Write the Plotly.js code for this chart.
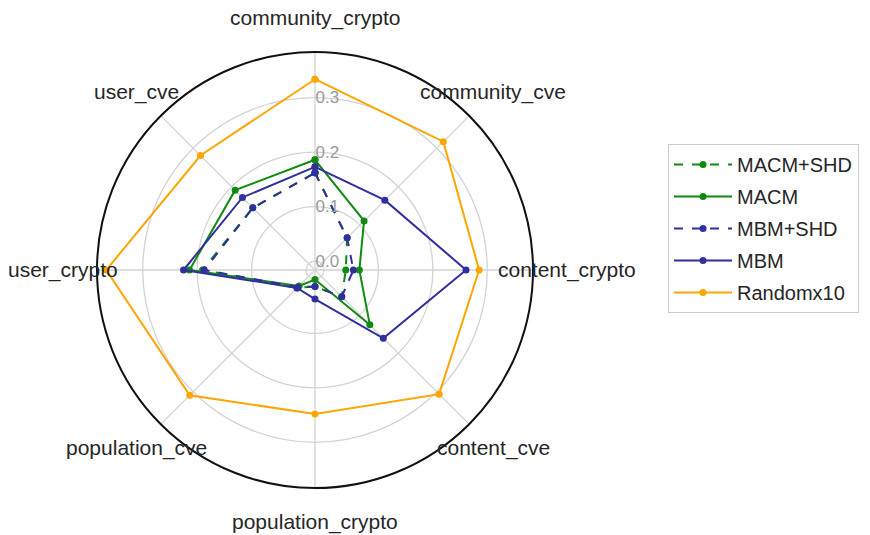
<!DOCTYPE html>
<html><head><meta charset="utf-8">
<script src="https://cdn.plot.ly/plotly-3.0.1.min.js"></script>
<style>html,body{margin:0;padding:0;background:#fff}#chart{width:870px;height:535px}</style>
</head><body><div id="chart"></div>
<script>
const categories = ["community_crypto","community_cve","content_crypto","content_cve","population_crypto","population_cve","user_crypto","user_cve"];
const seriesNames = ["MACM+SHD","MACM","MBM+SHD","MBM","Randomx10"];
const macmShd   = [0.162, 0.067, 0.040, 0.053, 0.014, 0.030, 0.190, 0.145];
const macm      = [0.186, 0.111, 0.065, 0.126, 0.001, 0.025, 0.214, 0.191];
const mbmShd    = [0.162, 0.067, 0.054, 0.053, 0.014, 0.028, 0.187, 0.145];
const mbm       = [0.173, 0.165, 0.261, 0.161, 0.037, 0.030, 0.225, 0.172];
const random10  = [0.334, 0.317, 0.285, 0.306, 0.248, 0.309, 0.367, 0.281];
const radialTicks = [0, 0.1, 0.2, 0.3];
const radialTickText = ["0.0","0.1","0.2","0.3"];

const allSeries = [macmShd, macm, mbmShd, mbm, random10];
const colors = ["#108a10","#108a10","#2f2f9e","#2f2f9e","#ffa500"];
const dashes = ["dash","solid","dash","solid","solid"];

const W = 870, H = 535, CX = 315, CY = 270, R = 218, RL = 252;
const font = "Liberation Sans, Arial, sans-serif";

const traces = allSeries.map((vals, i) => ({
  type: "scatterpolar",
  mode: "lines+markers",
  name: seriesNames[i],
  legendgroup: "g" + i,
  r: vals.concat([vals[0]]),
  theta: categories.concat([categories[0]]),
  line: {color: colors[i], width: 2, dash: dashes[i]},
  marker: {color: colors[i], size: 7},
  cliponaxis: false
}));

const annotations = categories.map((c, i) => {
  const a = (90 - i * 45) * Math.PI / 180;
  return {
    xref: "paper", yref: "paper",
    x: (CX + RL * Math.cos(a)) / W,
    y: 1 - (CY - RL * Math.sin(a)) / H,
    xanchor: "center", yanchor: "middle",
    text: c, showarrow: false,
    font: {family: font, size: 21, color: "#262626"}
  };
});

const layout = {
  width: W, height: H,
  margin: {l: 0, r: 0, t: 0, b: 0},
  paper_bgcolor: "#fff",
  showlegend: true,
  legend: {
    x: 668 / W, y: 1 - 144 / H, xanchor: "left", yanchor: "top",
    bgcolor: "#fff", bordercolor: "#cccccc", borderwidth: 1,
    font: {family: font, size: 20, color: "#262626"},
    tracegroupgap: 3, itemwidth: 58
  },
  polar: {
    domain: {x: [(CX - R) / W, (CX + R) / W], y: [1 - (CY + R) / H, 1 - (CY - R) / H]},
    bgcolor: "#fff",
    angularaxis: {
      type: "category", rotation: 90, direction: "clockwise",
      showticklabels: false, ticks: "",
      showgrid: true, gridcolor: "#d3d3d3", gridwidth: 1.3,
      showline: true, linecolor: "#111", linewidth: 2
    },
    radialaxis: {
      range: [-0.0165, 0.384], angle: 90, tickangle: 90,
      tickvals: radialTicks, ticktext: radialTickText,
      showline: false, ticks: "",
      showgrid: true, gridcolor: "#d3d3d3", gridwidth: 1.3,
      tickfont: {family: font, size: 17, color: "#9a9a9a"}
    }
  },
  annotations: annotations
};

Plotly.newPlot("chart", traces, layout, {displayModeBar: false, staticPlot: true});
</script>
</body></html>
